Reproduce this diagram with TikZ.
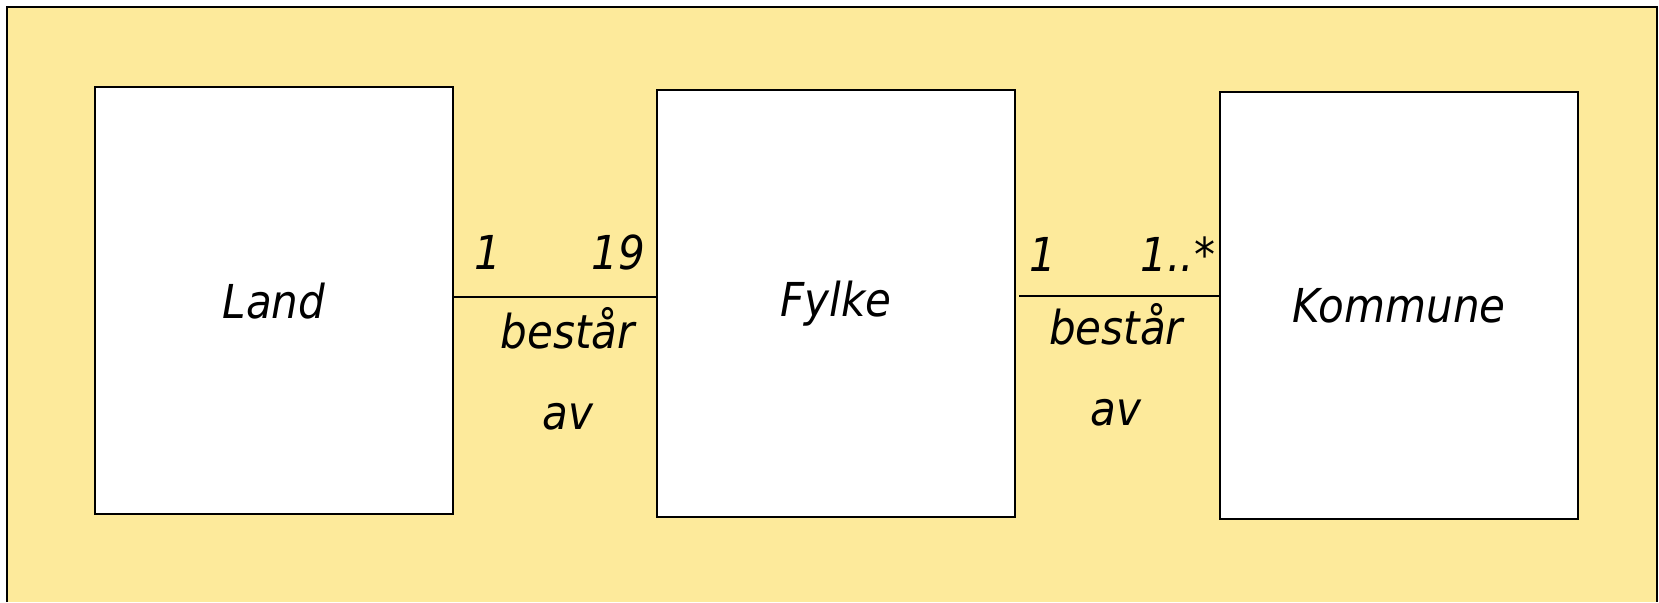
\documentclass[tikz,border=0pt]{standalone}
\usepackage{fontspec}
\setmainfont{DejaVu Sans Condensed}
\usepackage{tikz}
\usetikzlibrary{positioning}
\usepackage{xcolor}
\definecolor{paneyellow}{RGB}{253, 234, 155}

\begin{document}
\begin{tikzpicture}[x=0.1mm, y=-0.1mm, line width=0.6pt, font=\fontsize{13.3}{16}\selectfont\itshape,
    entity/.style={draw, rectangle, fill=white, minimum width=35.8mm, minimum height=42.7mm},
    mult/.style={anchor=base, inner sep=0pt}]
    \useasboundingbox (0,0) rectangle (1659,602);
    \fill[paneyellow] (7,7) rectangle (1657,602);
    \draw (7,602) |- (1657,7) -- (1657,602);
    \node[entity] (land) at (274,300.6) {Land};
    \node[entity, right=20.2mm of land, yshift=-0.27mm] (fylke) {Fylke};
    \node[entity, right=20.3mm of fylke, yshift=-0.25mm] (kommune) {Kommune};
    \draw ([yshift=0.33mm]land.east) -- ([yshift=0.33mm]land.east -| fylke.west)
        node[mult, pos=0.165, yshift=2.8mm] (landmult) {1}
        node[mult, pos=0.814, yshift=2.8mm] (fylkemult) {19}
        node[mult, pos=0.564, yshift=-5.07mm] (landrel) {består}
        node[mult, pos=0.564, yshift=-13.17mm] (landav) {av};
    \draw ([xshift=0.3mm, yshift=0.75mm]fylke.east) -- ([yshift=0.75mm]fylke.east -| kommune.west)
        node[mult, pos=0.119, yshift=2.48mm] (fylkeone) {1}
        node[mult, pos=0.794, yshift=2.48mm] (kommunemult) {1..*}
        node[mult, pos=0.485, yshift=-4.82mm] (fylkerel) {består}
        node[mult, pos=0.485, yshift=-12.92mm] (fylkeav) {av};
\end{tikzpicture}
\end{document}
